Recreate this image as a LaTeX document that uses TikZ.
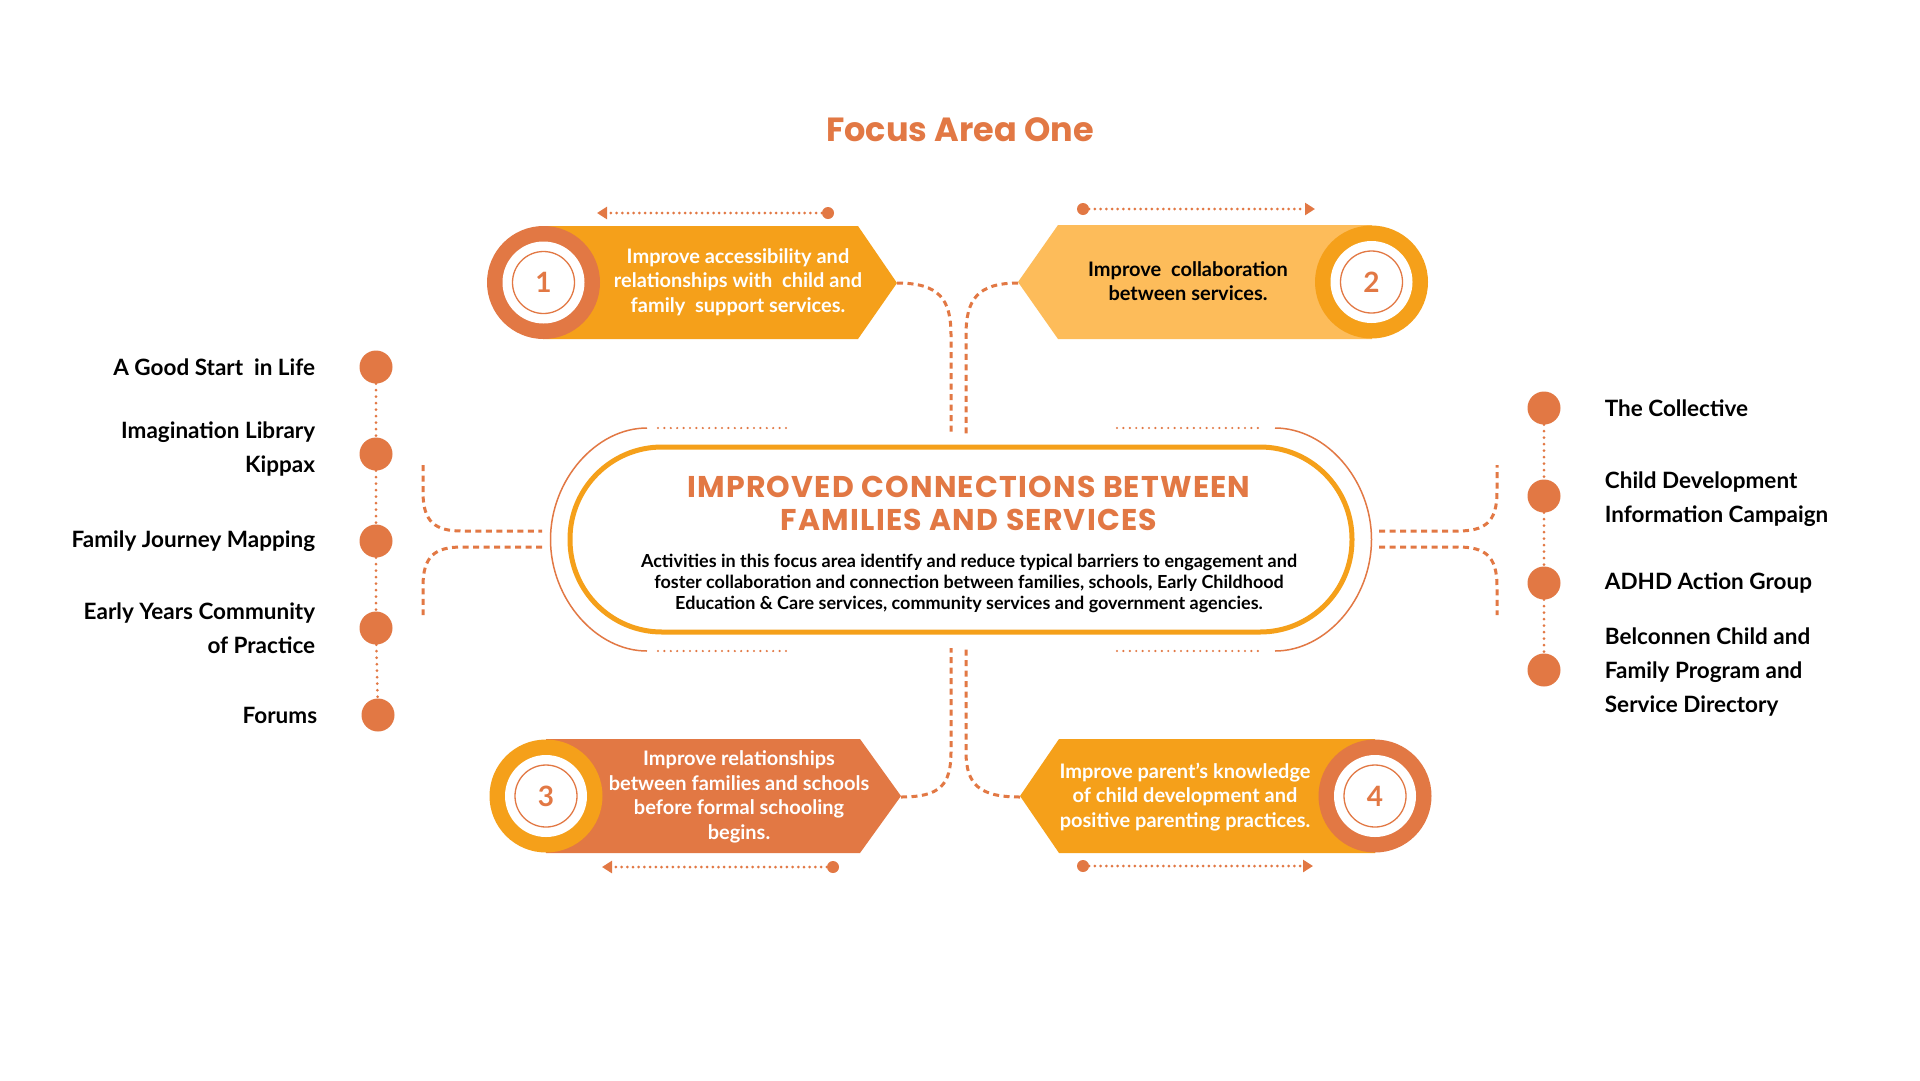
\documentclass[tikz,border=0pt]{standalone}
\usepackage{fontspec}
\setmainfont{Lato}
\newfontfamily\popfont{Poppins}
\newfontfamily\popwide{Poppins}[LetterSpace=4]
\usetikzlibrary{positioning,arrows.meta}

\definecolor{coral}{HTML}{E27844}
\definecolor{amber}{HTML}{F5A01A}
\definecolor{sand}{HTML}{FDBC5A}

\begin{document}
\begin{tikzpicture}[x=1pt,y=-1pt,
    bullet/.style={circle,fill=coral,minimum size=33pt,inner sep=0pt},
    ring/.style={circle,minimum size=113pt,inner sep=0pt},
    hole/.style={circle,fill=white,minimum size=82pt,inner sep=0pt,text=coral,font=\fontsize{28}{28}\selectfont\bfseries},
    tipdot/.style={circle,fill=coral,minimum size=12pt,inner sep=0pt},
    bantext/.style={font=\fontsize{20}{24.5}\selectfont\bfseries,align=center,inner sep=0pt},
    lefttext/.style={font=\fontsize{22.5}{34}\selectfont\bfseries,align=right,inner sep=0pt},
    righttext/.style={font=\fontsize{22.5}{34}\selectfont\bfseries,align=left,inner sep=0pt},
    link/.style={coral,line width=3pt,dash pattern=on 6pt off 4.5pt},
    dotline/.style={coral,line width=3pt,line cap=round,dash pattern=on 0pt off 6.5pt},
    stub/.style={coral,line width=2.4pt,line cap=round,dash pattern=on 0pt off 6.4pt},
    rim/.style={coral,line width=1.5pt},
    dotarrow/.style={coral,line width=3pt,line cap=round,dash pattern=on 0pt off 5.7pt,-{Triangle[length=10pt,width=12pt]}}]

    \useasboundingbox (0,0) rectangle (1920,1080);
    \fill[white] (0,0) rectangle (1920,1080);

    \node[font=\popfont\fontsize{33.5}{40}\selectfont\bfseries,text=coral] (title) at (960,130) {Focus Area One};

    % links to the hub
    \coordinate (tip1) at (897,283);
    \coordinate (tip2) at (1018,283);
    \coordinate (tip3) at (901,797);
    \coordinate (tip4) at (1020,797);
    \coordinate (h1) at (951,435);
    \coordinate (h2) at (966,435);
    \coordinate (h3) at (951,648);
    \coordinate (h4) at (966,648);
    \draw[link] (tip1) .. controls (940,283) and (951,300) .. (951,335) -- (h1);
    \draw[link] (tip2) .. controls (977,283) and (966,300) .. (966,335) -- (h2);
    \draw[link] (tip3) .. controls (940,797) and (951,785) .. (951,752) -- (h3);
    \draw[link] (tip4) .. controls (980,797) and (966,785) .. (966,752) -- (h4);

    \coordinate (w1) at (423,465);
    \coordinate (w2) at (542,531);
    \coordinate (w3) at (542,547);
    \coordinate (w4) at (423,615);
    \coordinate (e1) at (1497,465);
    \coordinate (e2) at (1379,531);
    \coordinate (e3) at (1379,547);
    \coordinate (e4) at (1497,615);
    \draw[link] (w1) -- (423,492) .. controls (423,522) and (435,531) .. (462,531) -- (w2);
    \draw[link] (w3) -- (462,547) .. controls (435,547) and (423,556) .. (423,586) -- (w4);
    \draw[link] (e2) -- (1458,531) .. controls (1485,531) and (1497,522) .. (1497,492) -- (e1);
    \draw[link] (e3) -- (1458,547) .. controls (1485,547) and (1497,556) .. (1497,586) -- (e4);

    % hub
    \node[draw=amber,line width=5pt,rounded corners=92pt,minimum width=782pt,minimum height=185pt] (hub) at (961,539.5) {};
    \draw[rim] (647,428) .. controls (596,428) and (550.5,480) .. (550.5,539.5) .. controls (550.5,599) and (596,651) .. (647,651);
    \draw[rim] (1275,428) .. controls (1326,428) and (1371.5,480) .. (1371.5,539.5) .. controls (1371.5,599) and (1326,651) .. (1275,651);
    \draw[stub] (658,428) -- (786,428);
    \draw[stub] (658,651) -- (786,651);
    \draw[stub] (1117,428) -- (1263,428);
    \draw[stub] (1117,651) -- (1263,651);
    \node[font=\popwide\fontsize{30}{33}\selectfont\bfseries,text=coral,align=center] (head) at (969,503)
        {IMPROVED CONNECTIONS BETWEEN\\FAMILIES AND SERVICES};
    \node[font=\fontsize{18}{21}\selectfont\bfseries,align=center] (body) at (969,583)
        {Activities in this focus area identify and reduce typical barriers to engagement and\\
         foster collaboration and connection between families, schools, Early Childhood\\
         Education \& Care services, community services and government agencies.};

    % badges
    \fill[amber] (543,226) -- (858,226) -- (897,283) -- (858,339) -- (543,339) -- cycle;
    \fill[sand] (1018,282) -- (1058,225) -- (1372,225) -- (1372,339) -- (1058,339) -- cycle;
    \fill[coral] (546,739) -- (860,739) -- (901,796) -- (860,853) -- (546,853) -- cycle;
    \fill[amber] (1020,796) -- (1059,739) -- (1375,739) -- (1375,853) -- (1059,853) -- cycle;

    \node[ring,fill=coral] (b1) at (543.5,282.5) {};
    \node[ring,fill=amber] (b2) at (1371.5,282) {};
    \node[ring,fill=amber] (b3) at (546,796) {};
    \node[ring,fill=coral] (b4) at (1375,796) {};
    \foreach \i in {1,2,3,4} {
        \node[hole] (n\i) at (b\i) {\i};
        \draw[coral,line width=1.3pt] (n\i.center) circle (31pt);
    }

    \node[bantext,text=white] (t1) at (738,282) {Improve accessibility and\\relationships with\ \ child and\\family\ \ support services.};
    \node[bantext] (t2) at (1188,281) {Improve\ \ collaboration\\between services.};
    \node[bantext,text=white] (t3) at (739,797) {Improve relationships\\between families and schools\\before formal schooling\\begins.};
    \node[bantext,text=white] (t4) at (1185,797) {Improve parent’s knowledge\\of child development and\\positive parenting practices.};

    \node[tipdot] (s1) at (828,213) {};
    \node[tipdot] (s2) at (1083,209) {};
    \node[tipdot] (s3) at (833,867) {};
    \node[tipdot] (s4) at (1083,866) {};
    \coordinate (f1) at (597,213);
    \coordinate (f2) at (1315,209);
    \coordinate (f3) at (602,867);
    \coordinate (f4) at (1313,866);
    \foreach \i in {1,2,3,4}
        \draw[dotarrow] (s\i) -- (f\i);

    % left list
    \foreach \i/\y in {1/367,2/454,3/541,4/628}
        \node[bullet] (lb\i) at (376,\y) {};
    \node[bullet] (lb5) at (378,715) {};
    \foreach \i/\j in {1/2,2/3,3/4,4/5}
        \draw[dotline] (lb\i) -- (lb\j);
    \node[lefttext,left=44pt of lb1] (lt1) {A Good Start\ \ in Life};
    \node[lefttext,left=44pt of lb2,yshift=5pt] (lt2) {Imagination Library\\Kippax};
    \node[lefttext,left=44pt of lb3] (lt3) {Family Journey Mapping};
    \node[lefttext,left=44pt of lb4] (lt4) {Early Years Community\\of Practice};
    \node[lefttext,left=44pt of lb5] (lt5) {Forums};

    % right list
    \foreach \i/\y in {1/408,2/496,3/583,4/670}
        \node[bullet] (rb\i) at (1544,\y) {};
    \foreach \i/\j in {1/2,2/3,3/4}
        \draw[dotline] (rb\i) -- (rb\j);
    \node[righttext,right=44pt of rb1] (rt1) {The Collective};
    \node[righttext,right=44pt of rb2,yshift=-3pt] (rt2) {Child Development\\Information Campaign};
    \node[righttext,right=44pt of rb3] (rt3) {ADHD Action Group};
    \node[righttext,right=44pt of rb4,yshift=-2pt] (rt4) {Belconnen Child and\\Family Program and\\Service Directory};

\end{tikzpicture}
\end{document}
